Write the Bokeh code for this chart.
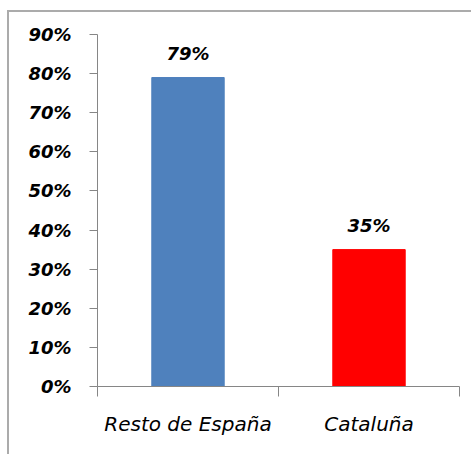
from bokeh.plotting import figure
from bokeh.models import FixedTicker, NumeralTickFormatter, Range1d, ColumnDataSource
from bokeh.core.properties import value
from bokeh.embed import file_html
from bokeh.resources import INLINE

categories = ["Resto de España", "Cataluña"]
values = [0.79, 0.35]
colors = ["#4F81BD", "#FF0000"]
y_ticks = [0.0, 0.1, 0.2, 0.3, 0.4, 0.5, 0.6, 0.7, 0.8, 0.9]

xs = [i + 0.5 for i in range(len(categories))]
labels = [f"{round(v * 100)}%" for v in values]
src = ColumnDataSource(dict(x=xs, top=values, color=colors, label=labels))

p = figure(width=464, height=444, output_backend="svg", toolbar_location=None,
           x_range=Range1d(0, len(categories)), y_range=Range1d(0, 0.9),
           min_border_left=88, min_border_right=14, min_border_top=22, min_border_bottom=70)
p.margin = (10, 0, 0, 7)
p.styles = {"border-top": "2px solid #ababab", "border-left": "2px solid #ababab"}
p.outline_line_color = None
p.xgrid.visible = False
p.ygrid.visible = False

p.vbar(x="x", top="top", width=0.4, color="color", source=src)
p.text(x="x", y="top", text="label", source=src, text_align="center", text_baseline="bottom",
       y_offset=-14, text_font=value("DejaVu Sans"), text_font_style="bold italic",
       text_font_size="18px", text_color="#000000")

axis_color = "#868686"
ya = p.yaxis[0]
ya.ticker = FixedTicker(ticks=y_ticks, minor_ticks=[])
ya.formatter = NumeralTickFormatter(format="0%")
ya.axis_line_color = axis_color
ya.major_tick_line_color = axis_color
ya.major_tick_out = 8
ya.major_tick_in = 0
ya.major_label_standoff = 18
ya.major_label_text_font = "DejaVu Sans"
ya.major_label_text_font_style = "bold italic"
ya.major_label_text_font_size = "18px"
ya.major_label_text_color = "#000000"

xa = p.xaxis[0]
xa.ticker = FixedTicker(ticks=xs, minor_ticks=list(range(len(categories) + 1)))
xa.major_label_overrides = {x: c for x, c in zip(xs, categories)}
xa.axis_line_color = axis_color
xa.major_tick_out = 0
xa.major_tick_in = 0
xa.major_tick_line_color = None
xa.minor_tick_line_color = axis_color
xa.minor_tick_out = 10
xa.minor_tick_in = 0
xa.major_label_standoff = 15
xa.major_label_text_font = "DejaVu Sans"
xa.major_label_text_font_style = "italic"
xa.major_label_text_font_size = "20px"
xa.major_label_text_color = "#000000"

open("out.html", "w").write(file_html(p, INLINE))
